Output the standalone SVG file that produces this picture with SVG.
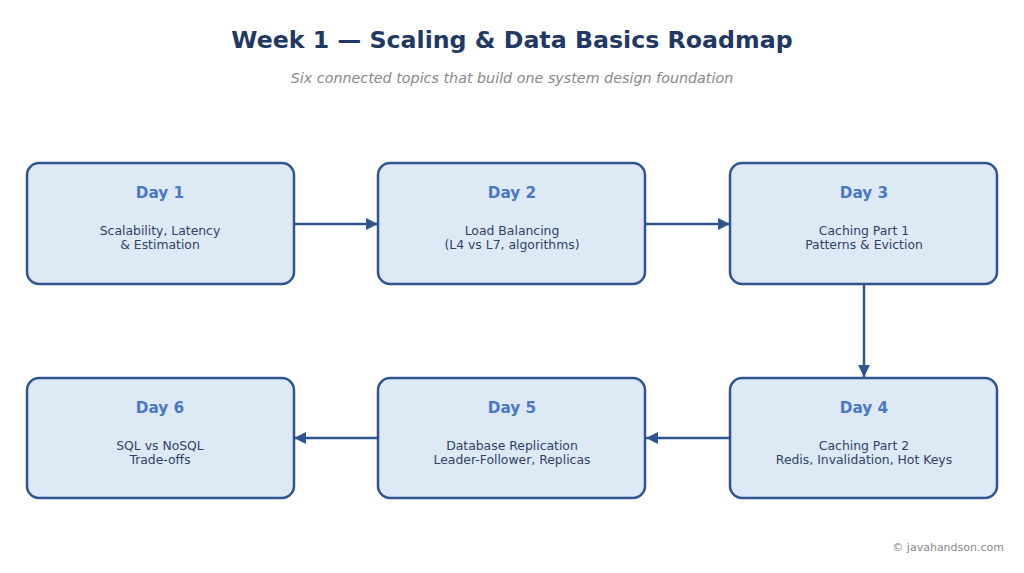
<svg xmlns="http://www.w3.org/2000/svg" width="1024" height="573" viewBox="0 0 1024 573">
<defs>
<marker id="ah" markerWidth="12" markerHeight="12" refX="12" refY="6" orient="auto" markerUnits="userSpaceOnUse">
<path d="M0,0 L12,6 L0,12 Z" fill="#2f5590"/>
</marker>
</defs>
<style>
.box{fill:#dee9f6;stroke:#2f5590;stroke-width:2.5}
.day{font-family:"DejaVu Sans",sans-serif;font-size:15.3px;font-weight:bold;fill:#4a78c2;text-anchor:middle}
.desc{font-family:"DejaVu Sans",sans-serif;font-size:12.4px;fill:#2e4266;text-anchor:middle}
.conn{stroke:#2f5590;stroke-width:2.5;fill:none;marker-end:url(#ah)}
</style>
<rect width="1024" height="573" fill="#ffffff"/>
<text x="512" y="48" font-family="DejaVu Sans, sans-serif" font-size="23.7" font-weight="bold" fill="#1f3864" text-anchor="middle">Week 1 — Scaling &amp; Data Basics Roadmap</text>
<text x="512" y="83" font-family="DejaVu Sans, sans-serif" font-size="14.3" font-style="italic" fill="#888888" text-anchor="middle">Six connected topics that build one system design foundation</text>
<g id="connectors">
<line class="conn" x1="294" y1="224" x2="378" y2="224"/>
<line class="conn" x1="645" y1="224" x2="730" y2="224"/>
<line class="conn" x1="864" y1="285" x2="864" y2="377"/>
<line class="conn" x1="730" y1="438" x2="646" y2="438"/>
<line class="conn" x1="378" y1="438" x2="294" y2="438"/>
</g>
<g id="day1">
<rect class="box" x="27" y="163" width="267" height="121" rx="12"/>
<text class="day" x="160" y="198">Day 1</text>
<text class="desc" x="160" y="235">Scalability, Latency</text>
<text class="desc" x="160" y="249">&amp; Estimation</text>
</g>
<g id="day2">
<rect class="box" x="378" y="163" width="267" height="121" rx="12"/>
<text class="day" x="512" y="198">Day 2</text>
<text class="desc" x="512" y="235">Load Balancing</text>
<text class="desc" x="512" y="249">(L4 vs L7, algorithms)</text>
</g>
<g id="day3">
<rect class="box" x="730" y="163" width="267" height="121" rx="12"/>
<text class="day" x="864" y="198">Day 3</text>
<text class="desc" x="864" y="235">Caching Part 1</text>
<text class="desc" x="864" y="249">Patterns &amp; Eviction</text>
</g>
<g id="day4">
<rect class="box" x="730" y="378" width="267" height="120" rx="12"/>
<text class="day" x="864" y="413">Day 4</text>
<text class="desc" x="864" y="450">Caching Part 2</text>
<text class="desc" x="864" y="464">Redis, Invalidation, Hot Keys</text>
</g>
<g id="day5">
<rect class="box" x="378" y="378" width="267" height="120" rx="12"/>
<text class="day" x="512" y="413">Day 5</text>
<text class="desc" x="512" y="450">Database Replication</text>
<text class="desc" x="512" y="464">Leader-Follower, Replicas</text>
</g>
<g id="day6">
<rect class="box" x="27" y="378" width="267" height="120" rx="12"/>
<text class="day" x="160" y="413">Day 6</text>
<text class="desc" x="160" y="450">SQL vs NoSQL</text>
<text class="desc" x="160" y="464">Trade-offs</text>
</g>
<text x="1004" y="551" font-family="DejaVu Sans, sans-serif" font-size="11" fill="#888888" text-anchor="end">© javahandson.com</text>
</svg>
